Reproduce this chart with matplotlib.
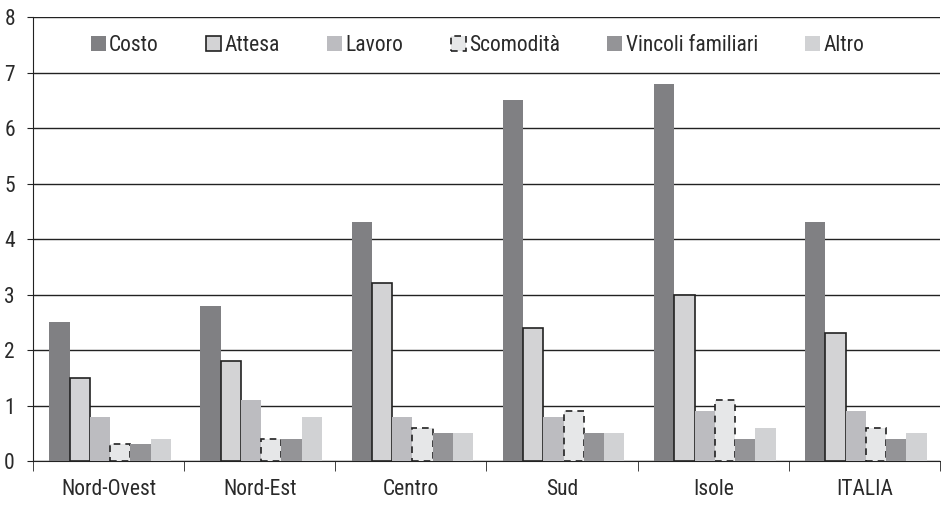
import numpy as np
import matplotlib
matplotlib.use("Agg")
import matplotlib.pyplot as plt

regions = ["Nord-Ovest", "Nord-Est", "Centro", "Sud", "Isole", "ITALIA"]
series = ["Costo", "Attesa", "Lavoro", "Scomodità", "Vincoli familiari", "Altro"]

costo = [2.5, 2.8, 4.3, 6.5, 6.8, 4.3]
attesa = [1.5, 1.8, 3.2, 2.4, 3.0, 2.3]
lavoro = [0.8, 1.1, 0.8, 0.8, 0.9, 0.9]
scomodita = [0.3, 0.4, 0.6, 0.9, 1.1, 0.6]
vincoli = [0.3, 0.4, 0.5, 0.5, 0.4, 0.4]
altro = [0.4, 0.8, 0.5, 0.5, 0.6, 0.5]

values = [costo, attesa, lavoro, scomodita, vincoli, altro]
faces = ["#808083", "#d3d3d5", "#bcbcc0", "#e6e7e8", "#949497", "#d1d2d4"]
edges = ["none", "#222222", "none", "#222222", "none", "none"]
styles = ["solid", "solid", "solid", (0, (4, 3)), "solid", "solid"]

plt.rcParams["font.family"] = ["Roboto Condensed", "DejaVu Sans"]
plt.rcParams["font.size"] = 15.5
plt.rcParams["text.color"] = "#2a2a2a"

fig = plt.figure(figsize=(9.41, 5.08), dpi=100)
ax = fig.add_axes([0.035, 0.0925, 0.964, 0.874])

x = np.arange(len(regions))
w = 0.134
for i, (vals, fc, ec, ls, name) in enumerate(zip(values, faces, edges, styles, series)):
    off = (i - 2.5) * w + 0.01
    ax.bar(x + off, vals, width=w, color=fc, edgecolor=ec, linewidth=1.2,
           linestyle=ls, label=name, zorder=3)

ax.set_xlim(-0.5, len(regions) - 0.5)
ax.set_ylim(0, 8)
ax.set_yticks(range(0, 9))
ax.grid(axis="y", color="#222222", linewidth=1.0, zorder=0)
ax.set_xticks(x)
ax.set_xticklabels(regions)
ax.set_xticks(np.arange(-0.5, len(regions), 1), minor=True)
ax.tick_params(axis="x", which="major", length=0, pad=13, labelcolor="#2a2a2a")
ax.tick_params(axis="x", which="minor", length=7, color="#222222", direction="out")
ax.tick_params(axis="y", length=4, color="#222222", direction="out", pad=9, labelcolor="#2a2a2a")
for s in ["top", "right"]:
    ax.spines[s].set_visible(False)
ax.spines["left"].set_color("#222222")
ax.spines["bottom"].set_color("#222222")

leg = ax.legend(loc="upper center", bbox_to_anchor=(0.49, 1.0), ncol=6, frameon=False,
                handlelength=0.7, handleheight=0.7, handletextpad=0.15,
                columnspacing=2.2, borderaxespad=0.45)

fig.savefig("out.png", dpi=100)
